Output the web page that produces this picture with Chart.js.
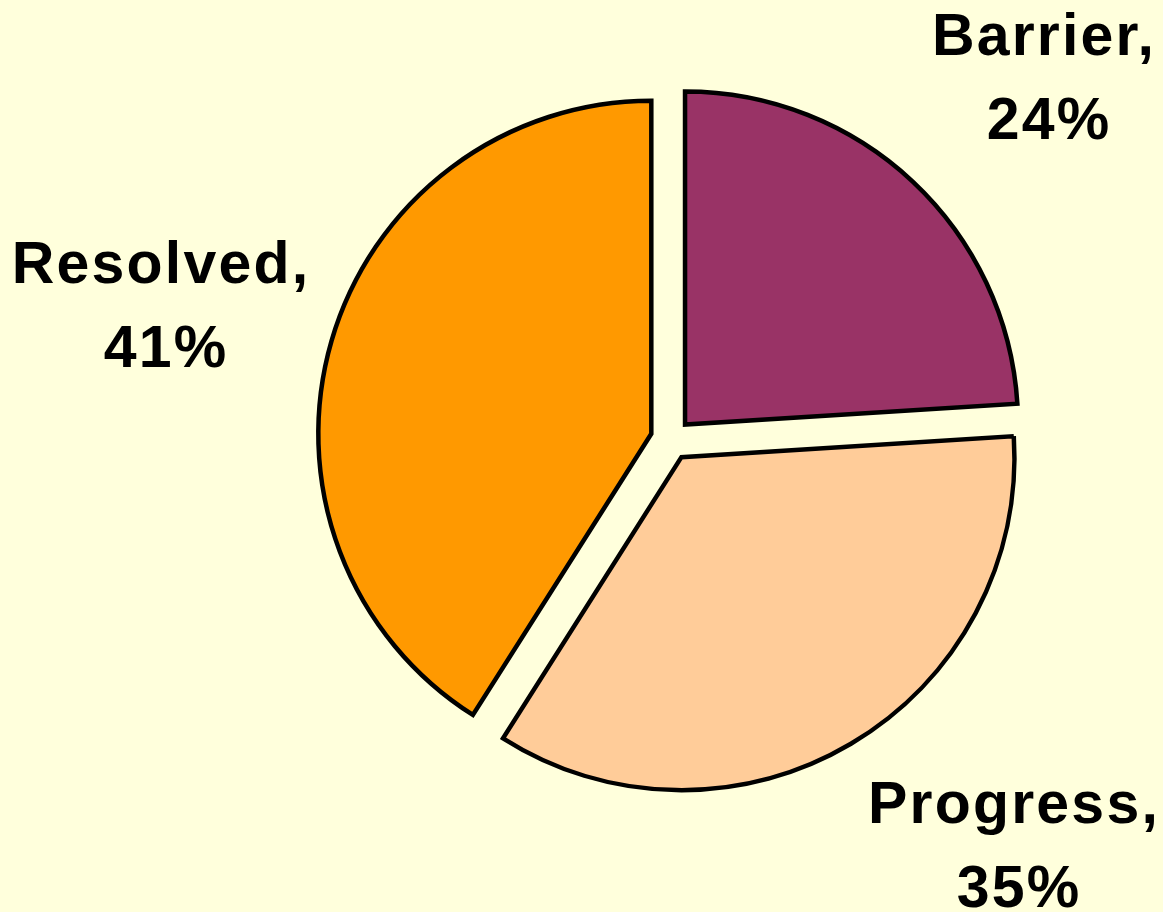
<!DOCTYPE html>
<html>
<head>
<meta charset="utf-8">
<script src="https://cdn.jsdelivr.net/npm/chart.js@4.4.1/dist/chart.umd.min.js"></script>
<style>
  html, body { margin: 0; padding: 0; background: #FFFFDC; }
  #wrap { width: 1163px; height: 912px; }
</style>
</head>
<body>
<div id="wrap"><canvas id="c" width="1163" height="912"></canvas></div>
<script>
// ---- data ----
const categories = ["Barrier", "Progress", "Resolved"];
const shares = [24, 35, 41];
const sliceColors = ["#993366", "#FFCC99", "#FF9900"];

// ---- layout (label anchors: centre x of the value line, baseline y of the name line) ----
const labelAnchors = [
  { x: 1049, y: 55 },
  { x: 1019, y: 823 },
  { x: 166, y: 283 }
];
const explode = 20.5;

const explodePlugin = {
  id: 'explode',
  afterDatasetsUpdate(chart) {
    const meta = chart.getDatasetMeta(0);
    meta.data.forEach(arc => {
      const mid = (arc.startAngle + arc.endAngle) / 2;
      arc.x += Math.cos(mid) * explode;
      arc.y += Math.sin(mid) * explode;
    });
  }
};

const labelPlugin = {
  id: 'sliceLabels',
  afterDatasetsDraw(chart) {
    const ctx = chart.ctx;
    ctx.save();
    ctx.font = 'bold 59px "Liberation Sans", Arial, sans-serif';
    ctx.fillStyle = '#000000';
    ctx.textAlign = 'center';
    ctx.textBaseline = 'alphabetic';
    if ('letterSpacing' in ctx) ctx.letterSpacing = '2.2px';
    categories.forEach((name, i) => {
      const a = labelAnchors[i];
      ctx.fillText(name + ',', a.x - 5, a.y);
      ctx.fillText(shares[i] + '%', a.x, a.y + 84);
    });
    ctx.restore();
  }
};

new Chart(document.getElementById('c'), {
  type: 'pie',
  data: {
    labels: categories,
    datasets: [{
      data: shares,
      backgroundColor: sliceColors,
      borderColor: '#000000',
      borderWidth: 4.5,
      borderJoinStyle: 'miter',
      borderAlign: 'center'
    }]
  },
  options: {
    responsive: false,
    animation: false,
    radius: 333,
    layout: { padding: { left: 179, right: 0, top: 0, bottom: 33 } },
    plugins: {
      legend: { display: false },
      tooltip: { enabled: false },
      title: { display: false }
    },
    events: []
  },
  plugins: [explodePlugin, labelPlugin]
});
</script>
</body>
</html>
